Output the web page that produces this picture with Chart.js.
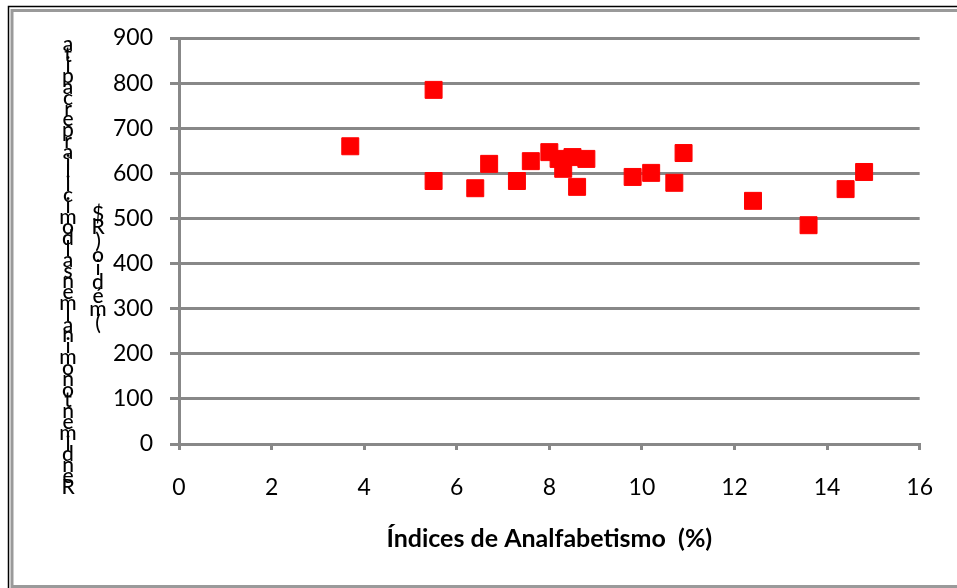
<!DOCTYPE html>
<html lang="pt">
<head>
<meta charset="utf-8">
<title>Índices de Analfabetismo x Rendimento</title>
<script src="https://cdn.jsdelivr.net/npm/chart.js@4.4.1/dist/chart.umd.min.js"></script>
<style>
  html, body { margin: 0; padding: 0; background: #ffffff; }
  #wrap { width: 957px; height: 588px; }
</style>
</head>
<body>
<div id="wrap"><canvas id="chart" width="957" height="588"></canvas></div>
<script>
// Illiteracy rate (%) per state and mean monthly income (R$)
const analfabetismo = [3.7, 5.5, 5.5, 6.4, 6.7, 7.3, 7.6, 8.0, 8.2, 8.3, 8.5, 8.6, 8.8, 9.8, 10.2, 10.7, 10.9, 12.4, 13.6, 14.4, 14.8];
const rendimento    = [660, 785, 583, 567, 621, 583, 627, 647, 632, 610, 636, 570, 632, 592, 601, 579, 645, 539, 485, 565, 603];

const xTitle = 'Índices de Analfabetismo  (%)';
// Vertical axis title, written as stacked upright characters (bottom to top)
const yTitleMain = 'Rendimento nominal mensal domiciliar per capita';
const yTitleUnit = '(médio) R$';

const points = analfabetismo.map((x, i) => ({ x: x, y: rendimento[i] }));

const FONT = 'Lato, "Open Sans", "Liberation Sans", sans-serif';

// Frame around the whole figure
const framePlugin = {
  id: 'frame',
  beforeDraw(chart) {
    const ctx = chart.ctx;
    ctx.save();
    ctx.fillStyle = '#ffffff';
    ctx.fillRect(0, 0, chart.width, chart.height);
    ctx.strokeStyle = '#000000';
    ctx.lineWidth = 1.5;
    ctx.beginPath();
    ctx.moveTo(8.5, chart.height);
    ctx.lineTo(8.5, 6.5);
    ctx.lineTo(chart.width, 6.5);
    ctx.stroke();
    ctx.strokeStyle = '#9a9a9a';
    ctx.lineWidth = 3;
    ctx.beginPath();
    ctx.moveTo(12, chart.height);
    ctx.lineTo(12, 10.5);
    ctx.lineTo(chart.width, 10.5);
    ctx.moveTo(12, 586.5);
    ctx.lineTo(chart.width, 586.5);
    ctx.stroke();
    ctx.restore();
  }
};

// Stacked vertical title for the value axis
const stackedTitlePlugin = {
  id: 'stackedTitle',
  afterDraw(chart) {
    const ctx = chart.ctx;
    ctx.save();
    ctx.fillStyle = '#000000';
    ctx.font = '500 21px ' + FONT;
    ctx.textAlign = 'center';
    ctx.textBaseline = 'middle';
    const column = (text, cx, yBottom, yTop) => {
      const chars = Array.from(text).filter(c => c !== ' ');
      const step = (yBottom - yTop) / (chars.length - 1);
      chars.forEach((c, i) => ctx.fillText(c, cx, yBottom - i * step));
    };
    column(yTitleMain, 68, 487, 44);
    column(yTitleUnit, 98, 323, 214);
    ctx.restore();
  }
};

new Chart(document.getElementById('chart'), {
  type: 'scatter',
  data: {
    datasets: [{
      data: points,
      pointStyle: 'rect',
      pointRadius: 12,
      pointHoverRadius: 12,
      backgroundColor: '#ff0000',
      borderColor: '#ff0000',
      borderWidth: 1
    }]
  },
  options: {
    responsive: false,
    devicePixelRatio: 1,
    animation: false,
    layout: { padding: { left: 0, top: 38, right: 37, bottom: 34 } },
    plugins: { legend: { display: false }, tooltip: { enabled: false } },
    scales: {
      x: {
        type: 'linear',
        min: 0, max: 16,
        ticks: { stepSize: 2, color: '#000000', padding: 24, font: { family: FONT, size: 23 } },
        grid: { drawOnChartArea: false, drawTicks: true, tickLength: 6, color: '#888888', lineWidth: 3 },
        border: { display: true, color: '#888888', width: 3 },
        title: {
          display: true, text: xTitle, color: '#000000',
          font: { family: FONT, size: 25, weight: 'bold' },
          padding: { top: 0, bottom: 0 }
        },
        afterFit(scale) { scale.height = 110; }
      },
      y: {
        type: 'linear',
        min: 0, max: 900,
        ticks: { stepSize: 100, color: '#000000', padding: 17, font: { family: FONT, size: 23 } },
        grid: { color: '#888888', lineWidth: 3, tickLength: 9 },
        border: { display: true, color: '#888888', width: 3 },
        afterFit(scale) { scale.width = 179; }
      }
    }
  },
  plugins: [framePlugin, stackedTitlePlugin]
});
</script>
</body>
</html>
